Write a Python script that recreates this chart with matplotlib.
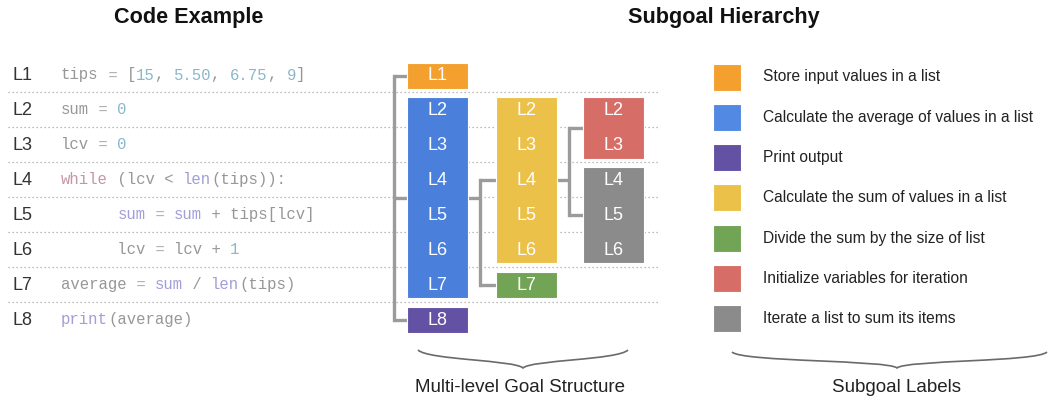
import numpy as np
import matplotlib.pyplot as plt
from matplotlib.path import Path
import matplotlib.patches as mpatches

# ---- data ----
line_labels = ["L1", "L2", "L3", "L4", "L5", "L6", "L7", "L8"]

# code tokens per line: (text, style)
code_lines = [
    [("tips", "plain"), (" = ", "op"), ("[", "plain"), ("15", "num"), (", ", "plain"), ("5.50", "num"),
     (", ", "plain"), ("6.75", "num"), (", ", "plain"), ("9", "num"), ("]", "plain")],
    [("sum", "plain"), (" = ", "op"), ("0", "num")],
    [("lcv", "plain"), (" = ", "op"), ("0", "num")],
    [("while", "kw"), (" (lcv < ", "plain"), ("len", "fn"), ("(tips)):", "plain")],
    [("      ", "plain"), ("sum", "fn"), (" = ", "op"), ("sum", "fn"), (" + tips[lcv]", "plain")],
    [("      lcv", "plain"), (" = ", "op"), ("lcv + ", "plain"), ("1", "num")],
    [("average", "plain"), (" = ", "op"), ("sum", "fn"), (" / ", "plain"), ("len", "fn"), ("(tips)", "plain")],
    [("print", "fn"), ("(average)", "plain")],
]

subgoal_labels = [
    "Store input values in a list",
    "Calculate the average of values in a list",
    "Print output",
    "Calculate the sum of values in a list",
    "Divide the sum by the size of list",
    "Initialize variables for iteration",
    "Iterate a list to sum its items",
]
subgoal_colors = ["#f4a02e", "#4a80db", "#6351a3", "#ebc149", "#71a454", "#d76d67", "#8b8b8b"]
legend_colors = ["#f4a02e", "#5289e3", "#6351a3", "#ebc149", "#71a454", "#d76d67", "#8b8b8b"]

# goal boxes: (level, first line, last line, subgoal index)
boxes = [
    (0, 1, 1, 0),
    (0, 2, 7, 1),
    (0, 8, 8, 2),
    (1, 2, 6, 3),
    (1, 7, 7, 4),
    (2, 2, 3, 5),
    (2, 4, 6, 6),
]
# tree links: parent box index -> children box indices (None = root bracket)
links = [(None, [0, 1, 2]), (1, [3, 4]), (3, [5, 6])]

# ---- layout ----
fig = plt.figure(figsize=(10.54, 4.0), dpi=100)
ax = fig.add_axes([0, 0, 1, 1])
ax.set_xlim(0, 1054)
ax.set_ylim(400, 0)
ax.axis("off")

sans = ["Liberation Sans", "DejaVu Sans"]
row0, dy = 75.0, 34.86


def row_y(i):
    return row0 + (i - 1) * dy


code_colors = {"plain": "#979797", "op": "#b0b0b0", "num": "#8ab8cb",
               "kw": "#c796a4", "fn": "#a29ed8"}
cw = 9.4
code_fs = cw * 72 / (0.6 * 100)

ax.text(189, 18, "Code Example", ha="center", va="center", fontsize=15.6,
        fontweight="bold", family=sans, color="#111111")
ax.text(724, 18, "Subgoal Hierarchy", ha="center", va="center", fontsize=15.6,
        fontweight="bold", family=sans, color="#111111")

for i, (lab, toks) in enumerate(zip(line_labels, code_lines), start=1):
    y = row_y(i)
    ax.text(13, y + 1, lab, ha="left", va="center", fontsize=13, family=sans, color="#333333")
    col = 0
    for txt, st in toks:
        ax.text(61 + col * cw, y, txt, ha="left", va="center", fontsize=code_fs,
                family="Liberation Mono", color=code_colors[st])
        col += len(txt)
    if i < len(line_labels):
        ax.plot([8, 660], [y + dy / 2, y + dy / 2], color="#a5a5a5", lw=0.9,
                linestyle=(0, (1, 2.2)), zorder=1)

# boxes
col_x = [407, 496, 583]
bw = 61
rects = []
for lvl, a, b, si in boxes:
    top = row_y(a) - 12.5
    bot = row_y(b) + 14
    x0 = col_x[lvl]
    ax.add_patch(mpatches.Rectangle((x0, top), bw, bot - top, facecolor=subgoal_colors[si],
                                    edgecolor="white", lw=0.8, zorder=3))
    for r in range(a, b + 1):
        ax.text(x0 + bw / 2, row_y(r) + 1, line_labels[r - 1], ha="center", va="center",
                fontsize=13, family=sans, color="white", zorder=4)
    rects.append((x0, top, bot))

# connectors
lc, lw = "#9b9b9b", 2.4
for parent, kids in links:
    if parent is None:
        vx = 394
    else:
        px, pt, pb = rects[parent]
        vx = px + bw + 12
        ax.plot([px + bw, vx], [(pt + pb) / 2] * 2, color=lc, lw=lw, zorder=2,
                solid_capstyle="butt")
    ys = [(rects[k][1] + rects[k][2]) / 2 for k in kids]
    ax.plot([vx, vx], [min(ys), max(ys)], color=lc, lw=lw, zorder=2, solid_capstyle="projecting")
    for k, yk in zip(kids, ys):
        ax.plot([vx, rects[k][0]], [yk, yk], color=lc, lw=lw, zorder=2, solid_capstyle="butt")

# legend
leg_y0, leg_dy = 77, 40.3
for j, (lab, c) in enumerate(zip(subgoal_labels, legend_colors)):
    y = leg_y0 + j * leg_dy
    ax.add_patch(mpatches.Rectangle((713, y - 13.5), 28, 27, facecolor=c,
                                    edgecolor="white", lw=0.8))
    ax.text(763, y, lab, ha="left", va="center", fontsize=11.2, family=sans, color="#222222")


# braces
def brace(x0, x1, ytop, ytip, xm=None):
    if xm is None:
        xm = (x0 + x1) / 2
    verts = [(x0, ytop), (x0 + 10, ytop + 10), (xm - 8, ytip - 8), (xm, ytip),
             (xm + 8, ytip - 8), (x1 - 10, ytop + 10), (x1, ytop)]
    codes = [Path.MOVETO, Path.CURVE4, Path.CURVE4, Path.CURVE4,
             Path.CURVE4, Path.CURVE4, Path.CURVE4]
    ax.add_patch(mpatches.PathPatch(Path(verts, codes), fill=False, edgecolor="#6a6a6a", lw=1.2))


brace(418, 628, 350, 368)
brace(732, 1047, 352, 368, xm=897)
ax.text(520, 387, "Multi-level Goal Structure", ha="center", va="center", fontsize=13.5,
        family=sans, color="#222222")
ax.text(897, 387, "Subgoal Labels", ha="center", va="center", fontsize=13.5,
        family=sans, color="#222222")

fig.savefig("out.png", dpi=100)
